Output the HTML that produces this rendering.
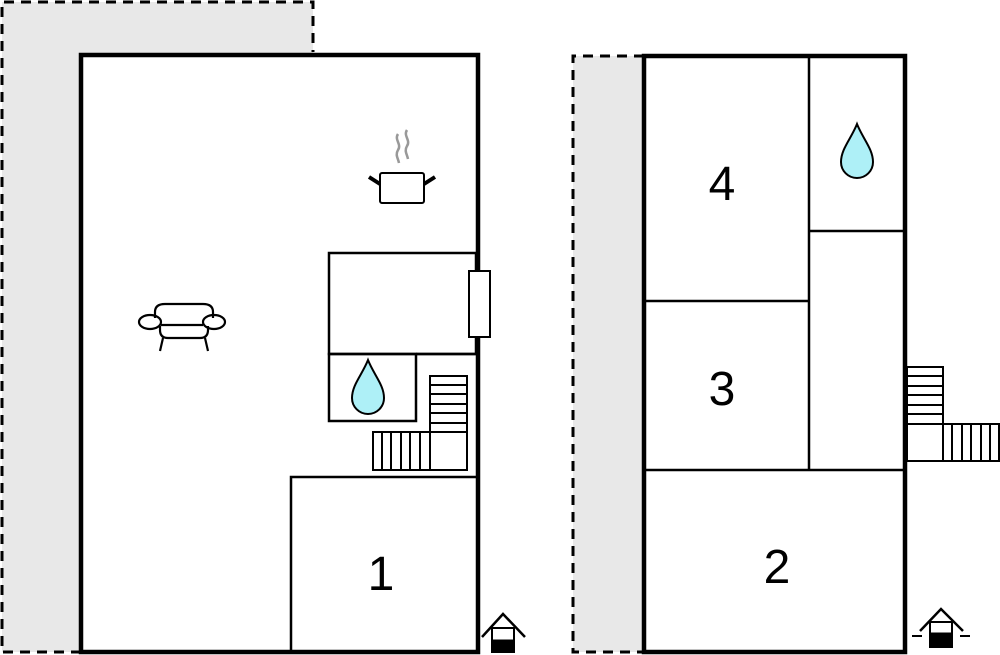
<!DOCTYPE html>
<html><head><style>body{margin:0;background:#fff}svg{display:block}</style></head><body>
<svg width="1000" height="655" viewBox="0 0 1000 655" xmlns="http://www.w3.org/2000/svg" font-family="Liberation Sans, sans-serif">
<path d="M2,2 H313 V55 H81 V652 H2 Z" fill="#e8e8e8"/>
<path d="M81,652 H2 V2 H313 V52" fill="none" stroke="#000" stroke-width="3" stroke-dasharray="10,7"/>
<rect x="573" y="56" width="71" height="596" fill="#e8e8e8"/>
<path d="M644,56 H573 V652 H644" fill="none" stroke="#000" stroke-width="3" stroke-dasharray="10,7"/>

<g fill="none" stroke="#000">
<rect x="81" y="55" width="397" height="597" fill="#fff" stroke-width="4.5"/>
<rect x="329" y="253" width="147" height="101" stroke-width="2.5"/>
<rect x="469" y="271" width="21" height="66" fill="#fff" stroke-width="2"/>
<rect x="329" y="354" width="87" height="67" stroke-width="2.5"/>
<line x1="416" y1="354" x2="476" y2="354" stroke-width="2.5"/>
<path d="M291,652 V477 H476" stroke-width="2.5"/>
<rect x="430" y="376" width="37" height="94" stroke-width="2"/>
<g stroke-width="2"><line x1="430" y1="385" x2="467" y2="385"/><line x1="430" y1="394" x2="467" y2="394"/><line x1="430" y1="404" x2="467" y2="404"/><line x1="430" y1="413" x2="467" y2="413"/><line x1="430" y1="423" x2="467" y2="423"/><line x1="430" y1="432" x2="467" y2="432"/></g>
<rect x="373" y="432" width="57" height="38" stroke-width="2"/>
<g stroke-width="2"><line x1="382" y1="432" x2="382" y2="470"/><line x1="391" y1="432" x2="391" y2="470"/><line x1="401" y1="432" x2="401" y2="470"/><line x1="410" y1="432" x2="410" y2="470"/><line x1="420" y1="432" x2="420" y2="470"/></g>

<rect x="644" y="56" width="261" height="596" fill="#fff" stroke-width="4.5"/>
<g stroke-width="2.5"><line x1="809" y1="56" x2="809" y2="470"/><line x1="644" y1="301" x2="809" y2="301"/><line x1="809" y1="231" x2="905" y2="231"/><line x1="644" y1="470" x2="905" y2="470"/></g>
<rect x="907" y="367" width="36" height="94" stroke-width="2"/>
<g stroke-width="2"><line x1="907" y1="376" x2="943" y2="376"/><line x1="907" y1="386" x2="943" y2="386"/><line x1="907" y1="395" x2="943" y2="395"/><line x1="907" y1="405" x2="943" y2="405"/><line x1="907" y1="414" x2="943" y2="414"/><line x1="907" y1="424" x2="943" y2="424"/></g>
<rect x="943" y="424" width="56" height="37" stroke-width="2"/>
<g stroke-width="2"><line x1="952" y1="424" x2="952" y2="461"/><line x1="962" y1="424" x2="962" y2="461"/><line x1="971" y1="424" x2="971" y2="461"/><line x1="981" y1="424" x2="981" y2="461"/><line x1="990" y1="424" x2="990" y2="461"/></g>

<path d="M398,134 c-4,6 4,10 0,16 c-3,5 0,8 1,13 M407,130 c-4,6 4,10 0,16 c-3,5 0,8 1,13" stroke="#999" stroke-width="2.5"/>
<rect x="380" y="173" width="44" height="30" rx="2" stroke-width="2"/>
<path d="M369,177 L380,184 M435,177 L424,184" stroke-width="4"/>
<g stroke-width="2.2">
<path d="M155,318 V312 Q155,304 165,304 H203 Q213,304 213,312 V318"/>
<path d="M160,326 V330 Q160,338 168,338 H200 Q208,338 208,330 V326"/>
<ellipse cx="150" cy="322" rx="11" ry="7"/><ellipse cx="214" cy="322" rx="11" ry="7"/>
<line x1="161" y1="325" x2="203" y2="325"/>
<path d="M163,338 L160,351 M205,338 L208,351"/>
</g>
<path d="M368,360 C362,375 352,385 352,398 A16,16 0 0 0 384,398 C384,385 374,375 368,360 Z" fill="#aef0f7" stroke-width="2"/>
<path d="M857,124 C851,139 841,149 841,162 A16,16 0 0 0 873,162 C873,149 863,139 857,124 Z" fill="#aef0f7" stroke-width="2"/>
<path d="M482,637 L503,614 L525,637" stroke-width="2.5"/>
<rect x="492" y="628" width="22" height="24" stroke-width="2"/>
<rect x="492" y="640" width="22" height="12" fill="#000"/>
<path d="M920,631 L941,609 L963,631" stroke-width="2.5"/>
<rect x="930" y="622" width="22" height="25" stroke-width="2"/>
<rect x="930" y="633" width="22" height="14" fill="#000"/>
<path d="M912,636 H922 M960,636 H970" stroke-width="2"/>
</g>
<g font-size="48" text-anchor="middle" fill="#000">
<text x="381" y="590">1</text><text x="777" y="583">2</text><text x="722" y="405">3</text><text x="722" y="200">4</text>
</g>
</svg>
</body></html>
